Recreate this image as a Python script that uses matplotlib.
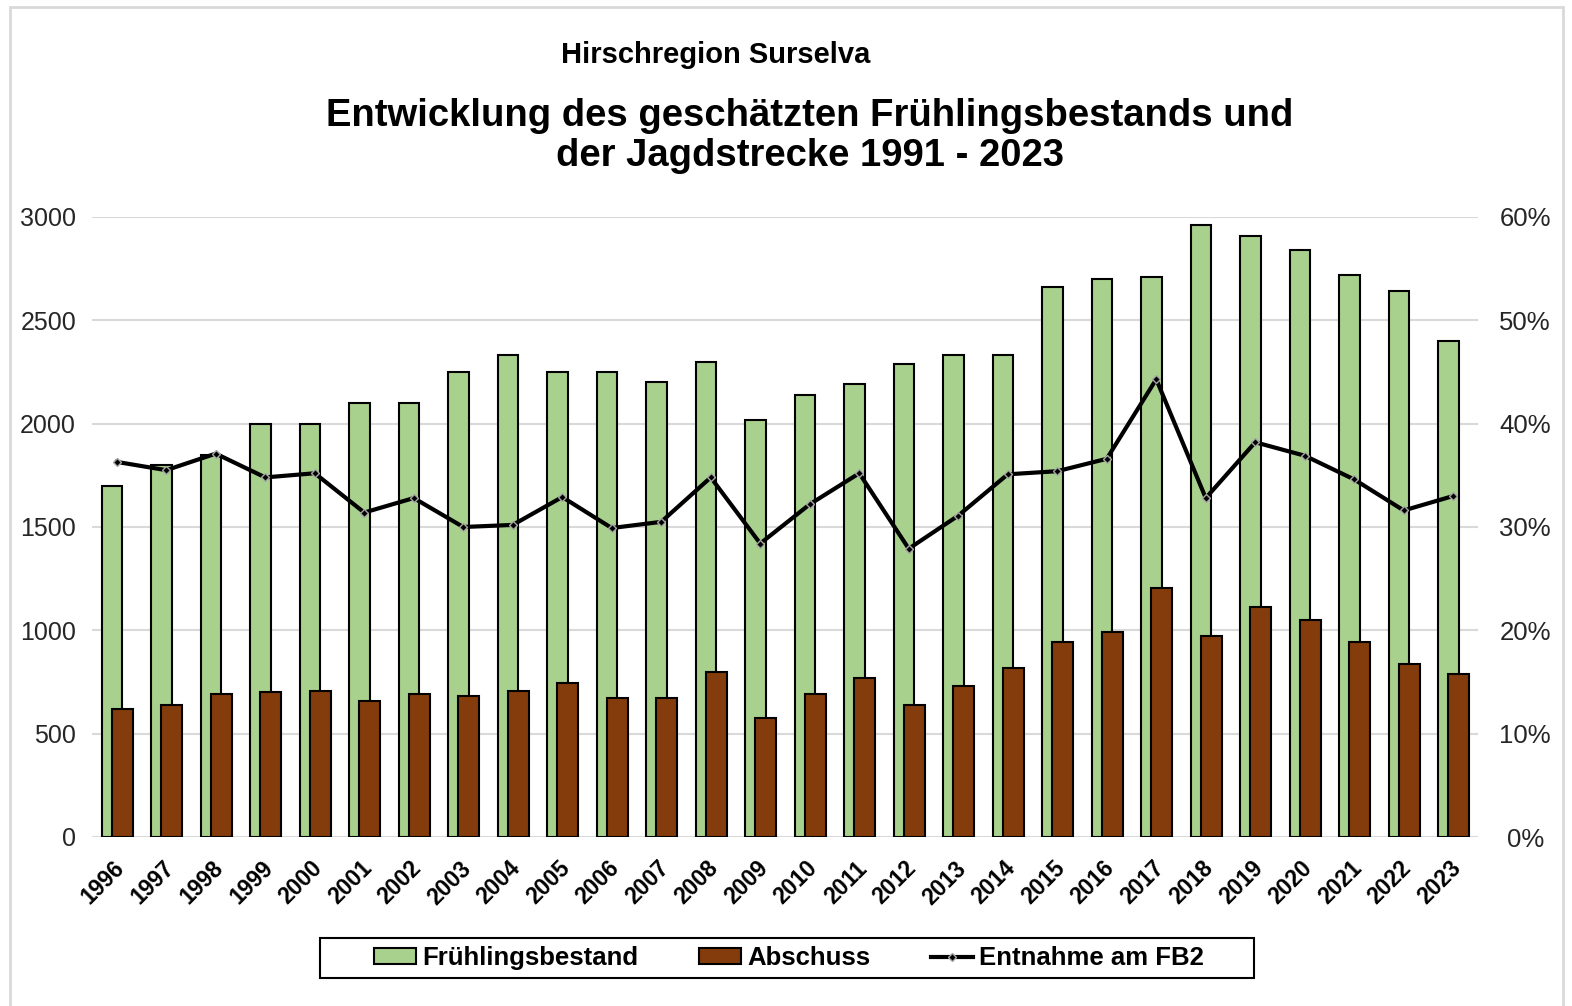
import matplotlib.pyplot as plt
import numpy as np
from matplotlib.lines import Line2D
from matplotlib.patches import Patch, Rectangle
from matplotlib.ticker import FuncFormatter, MultipleLocator
from matplotlib.transforms import ScaledTranslation

plt.rcParams["font.family"] = ["Liberation Sans", "DejaVu Sans"]

years = [str(y) for y in range(1996, 2024)]
fruehling = [1700, 1800, 1850, 2000, 2000, 2100, 2100, 2250, 2330, 2250,
             2250, 2200, 2300, 2020, 2140, 2190, 2290, 2330, 2330, 2660,
             2700, 2710, 2960, 2910, 2840, 2720, 2640, 2400]
abschuss = [620, 640, 690, 700, 705, 660, 690, 680, 705, 745,
            675, 675, 800, 575, 690, 770, 640, 730, 820, 945,
            990, 1205, 975, 1115, 1050, 945, 838, 790]
entnahme = [36.3, 35.5, 37.1, 34.8, 35.2, 31.4, 32.8, 30.0, 30.2, 32.9,
            29.9, 30.5, 34.8, 28.4, 32.2, 35.2, 27.9, 31.1, 35.1, 35.4,
            36.6, 44.3, 32.8, 38.2, 36.9, 34.6, 31.6, 33.0]

GREEN = "#a9d18e"
BROWN = "#843c0c"
GRID = "#d9d9d9"
TXT = "#262626"

W, H = 1572, 1006
fig = plt.figure(figsize=(W / 100, H / 100), dpi=100)
# light outer chart border
fig.patches.append(Rectangle((10 / W, -0.01), 1553 / W, 1 - 7 / H + 0.01,
                             transform=fig.transFigure, fill=False,
                             edgecolor=GRID, linewidth=2))

ax = fig.add_axes([92 / W, 1 - 837 / H, (1478 - 92) / W, (837 - 217) / H])
x = np.arange(len(years))
w = 0.42
ax.bar(x - 0.097, fruehling, w, color=GREEN, edgecolor="black", linewidth=1.5, zorder=2)
ax.bar(x + 0.111, abschuss, w, color=BROWN, edgecolor="black", linewidth=1.5, zorder=3)
ax.set_xlim(-0.5, len(years) - 0.5)
ax.set_ylim(0, 3000)
ax.yaxis.set_major_locator(MultipleLocator(500))
ax.grid(axis="y", color=GRID, linewidth=1.5, zorder=0)
ax.set_axisbelow(True)
for s in ax.spines.values():
    s.set_visible(False)
ax.tick_params(axis="both", length=0)
ax.tick_params(axis="y", labelsize=18, labelcolor=TXT, pad=11.5)
ax.set_xticks(x)
ax.set_xticklabels(years, rotation=45, ha="right", rotation_mode="anchor",
                   fontsize=16.5, fontweight="bold", color="black")
ax.tick_params(axis="x", pad=7)
shift = ScaledTranslation(-4 / 100, -10 / 100, fig.dpi_scale_trans)
for lab in ax.get_xticklabels():
    lab.set_transform(lab.get_transform() + shift)

ax2 = ax.twinx()
ax2.plot(x, entnahme, color="black", linewidth=3, marker="D", markersize=4.5,
         markerfacecolor="black", markeredgecolor="#a6a6a6", markeredgewidth=1, zorder=4)
ax2.set_ylim(0, 60)
ax2.yaxis.set_major_locator(MultipleLocator(10))
ax2.yaxis.set_major_formatter(FuncFormatter(lambda v, p: f"{v:.0f}%"))
for s in ax2.spines.values():
    s.set_visible(False)
ax2.tick_params(axis="y", length=0, labelsize=18.5, labelcolor=TXT, pad=34)
for lab in ax2.get_yticklabels():
    lab.set_horizontalalignment("center")

fig.text(716 / W, 1 - 55 / H, "Hirschregion Surselva", ha="center", va="center",
         fontsize=21, fontweight="bold")
fig.text(810 / W, 1 - 136 / H,
         "Entwicklung des geschätzten Frühlingsbestands und\nder Jagdstrecke 1991 - 2023",
         ha="center", va="center", fontsize=27.5, fontweight="bold", linespacing=1.15)

# legend box drawn separately (wider than its content, as in the original)
fig.patches.append(Rectangle((320 / W, 1 - 978 / H), (1254 - 320) / W, 40 / H,
                             transform=fig.transFigure, fill=False,
                             edgecolor="black", linewidth=1.5))
handles = [Patch(facecolor=GREEN, edgecolor="black", linewidth=1.5),
           Patch(facecolor=BROWN, edgecolor="black", linewidth=1.5),
           Line2D([], [], color="black", linewidth=3, marker="D", markersize=4.5,
                  markerfacecolor="black", markeredgecolor="#a6a6a6")]
fig.legend(handles, ["Frühlingsbestand", "Abschuss", "Entnahme am FB2"],
           loc="center", bbox_to_anchor=(789 / W, 1 - 958 / H), ncol=3,
           frameon=False, prop={"size": 18.5, "weight": "bold"},
           columnspacing=2.35, handlelength=1.65, handleheight=0.55,
           handletextpad=0.23, borderpad=0, borderaxespad=0)

fig.savefig("out.png", dpi=100)
